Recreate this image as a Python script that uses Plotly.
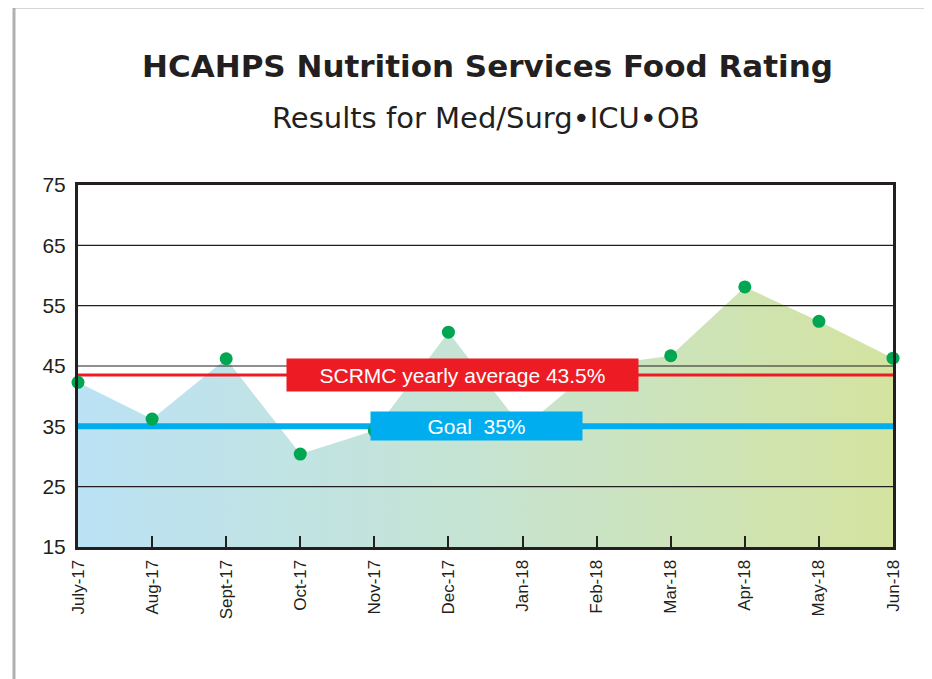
import plotly.graph_objects as go

# ---- data ----
months = ["July-17", "Aug-17", "Sept-17", "Oct-17", "Nov-17", "Dec-17",
          "Jan-18", "Feb-18", "Mar-18", "Apr-18", "May-18", "Jun-18"]
food_rating = [42.3, 36.2, 46.2, 30.4, 34.3, 50.6, 34.7, 45.0, 46.7, 58.1, 52.4, 46.3]
yearly_average = 43.5
goal = 35
y_ticks = [15, 25, 35, 45, 55, 65, 75]

title_text = "HCAHPS Nutrition Services Food Rating"
subtitle_text = "Results for Med/Surg\u2022ICU\u2022OB"
avg_label = "SCRMC yearly average 43.5%"
goal_label = "Goal  35%"

INK = "#231f20"
RED = "#ed1c24"
BLUE = "#00aeef"
GREEN = "#00a651"

fig = go.Figure()

# gradient area
fig.add_trace(go.Scatter(
    x=months, y=food_rating, mode="none", fill="tozeroy",
    fillgradient=dict(type="horizontal",
                      colorscale=[[0, "#bbe2f5"], [0.45, "#c5e4d6"], [1, "#d4e3a0"]]),
    hoverinfo="skip", showlegend=False))

# grid lines (drawn above the area, like the reference)
gx, gy = [], []
for t in y_ticks[1:-1]:
    gx += [months[0], months[-1], None]
    gy += [t, t, None]
fig.add_trace(go.Scatter(x=gx, y=gy, mode="lines",
                         line=dict(color=INK, width=1.2),
                         hoverinfo="skip", showlegend=False))

# yearly average line
fig.add_trace(go.Scatter(x=[months[0], months[-1]], y=[yearly_average] * 2,
                         mode="lines", line=dict(color=RED, width=3),
                         hoverinfo="skip", showlegend=False))
# goal line
fig.add_trace(go.Scatter(x=[months[0], months[-1]], y=[goal] * 2,
                         mode="lines", line=dict(color=BLUE, width=6),
                         hoverinfo="skip", showlegend=False))

# data points
fig.add_trace(go.Scatter(x=months, y=food_rating, mode="markers",
                         marker=dict(color=GREEN, size=13),
                         cliponaxis=False, showlegend=False))

# geometry: the page has an 8px body margin
OFF = 8
W, H = 932 - OFF, 679 - OFF
L = 78 - OFF
T = 185 - OFF
R = W - (893 - OFF)
B = H - (547 - OFF)
pw, ph = W - L - R, H - T - B


def px(xp):  # page x pixel -> paper
    return (xp - OFF - L) / pw


def py(yp):  # page y pixel -> paper
    return (H - B - (yp - OFF)) / ph


annotations = [
    dict(text=title_text, xref="paper", yref="paper", x=px(487), y=py(66),
         xanchor="center", yanchor="middle", showarrow=False,
         font=dict(family="DejaVu Sans", size=31, color=INK, weight="bold")),
    dict(text=subtitle_text, xref="paper", yref="paper", x=px(486), y=py(118),
         xanchor="center", yanchor="middle", showarrow=False,
         font=dict(family="DejaVu Sans", size=29, color=INK)),
    dict(text=avg_label, xref="paper", yref="y", x=px(462.5), y=yearly_average,
         xanchor="center", yanchor="middle", showarrow=False,
         bgcolor=RED, width=351, height=32, borderpad=0,
         font=dict(family="Liberation Sans", size=21, color="white")),
    dict(text=goal_label, xref="paper", yref="y", x=px(476.5), y=goal,
         xanchor="center", yanchor="middle", showarrow=False,
         bgcolor=BLUE, width=211, height=28, borderpad=0,
         font=dict(family="Liberation Sans", size=21, color="white")),
]

shapes = [
    dict(type="line", xref="paper", yref="paper", x0=px(14), x1=px(14),
         y0=py(700), y1=py(7), line=dict(color="#b0b0b0", width=3)),
    dict(type="line", xref="paper", yref="paper", x0=px(13), x1=px(945),
         y0=py(7), y1=py(7), line=dict(color="#b0b0b0", width=3)),
]

fig.update_layout(
    width=W, height=H,
    margin=dict(l=L, r=R, t=T, b=B),
    paper_bgcolor="white", plot_bgcolor="white",
    showlegend=False,
    annotations=annotations,
    shapes=shapes,
    xaxis=dict(type="category", range=[0, len(months) - 1],
               showgrid=False, zeroline=False,
               showline=True, linecolor=INK, linewidth=3, mirror=True,
               ticks="inside", ticklen=11, tickwidth=2, tickcolor=INK,
               tickangle=-90, ticklabelstandoff=3,
               tickfont=dict(family="Liberation Sans Narrow, Arial Narrow, Liberation Sans",
                             size=17, color=INK)),
    yaxis=dict(range=[y_ticks[0], y_ticks[-1]], tickvals=y_ticks,
               showgrid=False, zeroline=False,
               showline=True, linecolor=INK, linewidth=3, mirror=True,
               ticks="", ticklabelstandoff=5,
               tickfont=dict(family="Liberation Sans", size=21, color=INK)),
)

fig.write_html("out.html")
